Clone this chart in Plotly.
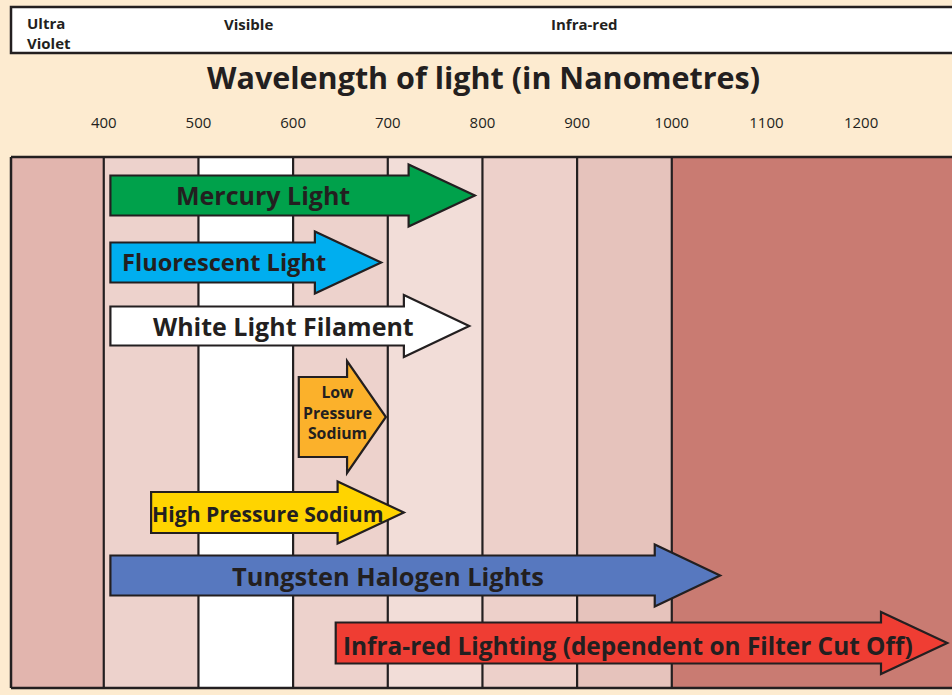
import plotly.graph_objects as go

# ---- data ----
tick_values = [400, 500, 600, 700, 800, 900, 1000, 1100, 1200]
tick_labels = ["400", "500", "600", "700", "800", "900", "1000", "1100", "1200"]

band_edges = [302, 400, 500, 600, 700, 800, 900, 1000, 1300]
band_colors = ["#E2B5AE", "#EDD2CC", "#FFFFFF", "#EDD2CC", "#F2DDD8", "#EDD0CA", "#E6C3BC", "#C97B72"]
divider_lines = [400, 500, 600, 700, 800, 900, 1000]

sources = ["Mercury Light", "Fluorescent Light", "White Light Filament",
           "Low<br>Pressure<br>Sodium", "High Pressure Sodium",
           "Tungsten Halogen Lights", "Infra-red Lighting (dependent on Filter Cut Off)"]
start_nm = [407, 407, 407, 606, 450, 407, 645]
end_nm = [792, 693, 786, 698, 717, 1051, 1291]

region_labels = ["Ultra<br>Violet", "Visible", "Infra-red"]

# ---- styles / layout ----
fill_colors = ["#00A14B", "#00AEEF", "#FFFFFF", "#FBB12B", "#FFD400", "#5778BF", "#EF3D33"]
row_y = [195.5, 262.5, 326, 417, 512.5, 575.5, 643]
body_half = [20, 20, 19.5, 40, 20.5, 20, 20.5]
head_half = [31, 31, 31, 56, 31, 31, 31]
head_len = [70, 70, 69, 41, 70, 69, 70]
label_x = [263, 224, 283, 337, 268, 388, 628]
label_y = [195, 262, 326, 412, 513, 576, 645]
label_size = [25, 23.6, 25, 15.8, 21.2, 25.4, 24.4]

INK = "#231F20"
BG = "#FDEBD0"
W, H = 952, 695
L, T, B = 11, 157, 7
x0r, x1r = 302, 1296


def px_to_x(px):
    return x0r + (px - L) / (W - L) * (x1r - x0r)


def py_to_paper(py):
    return (H - B - py) / (H - T - B)


fig = go.Figure()
fig.add_trace(go.Scatter(x=[x0r, x1r], y=[T, H - B], mode="markers",
                         marker=dict(opacity=0), hoverinfo="skip", showlegend=False))

shapes = []
for i, c in enumerate(band_colors):
    shapes.append(dict(type="rect", xref="x", yref="paper", x0=band_edges[i], x1=band_edges[i + 1],
                       y0=0, y1=1, fillcolor=c, line=dict(width=0), layer="below"))
for v in divider_lines:
    shapes.append(dict(type="line", xref="x", yref="paper", x0=v, x1=v, y0=0, y1=1,
                       line=dict(color=INK, width=2.2)))
# frame
shapes.append(dict(type="line", xref="paper", yref="paper", x0=0, x1=0, y0=0, y1=1,
                   line=dict(color=INK, width=2.5)))
shapes.append(dict(type="line", xref="paper", yref="paper", x0=0, x1=1.05, y0=1, y1=1,
                   line=dict(color=INK, width=2.5)))
shapes.append(dict(type="line", xref="paper", yref="paper", x0=0, x1=1.05, y0=0, y1=0,
                   line=dict(color=INK, width=2.5)))

# arrows
for i in range(len(sources)):
    s, e = start_nm[i], end_nm[i]
    hb = e - head_len[i]
    yc = row_y[i]
    bh, hh = body_half[i], head_half[i]
    path = (f"M{s},{yc - bh} L{hb},{yc - bh} L{hb},{yc - hh} L{e},{yc} "
            f"L{hb},{yc + hh} L{hb},{yc + bh} L{s},{yc + bh} Z")
    shapes.append(dict(type="path", xref="x", yref="y", path=path,
                       fillcolor=fill_colors[i], line=dict(color=INK, width=2.2)))

# top white box
shapes.append(dict(type="rect", xref="paper", yref="paper",
                   x0=0, x1=1.05, y0=py_to_paper(53), y1=py_to_paper(7),
                   fillcolor="#FFFFFF", line=dict(color=INK, width=2.5)))

annotations = []
for i, name in enumerate(sources):
    annotations.append(dict(x=px_to_x(label_x[i]), y=label_y[i], xref="x", yref="y",
                            text=f"<b>{name}</b>", showarrow=False,
                            font=dict(family="Open Sans", size=label_size[i], color=INK),
                            xanchor="center", yanchor="middle"))

annotations.append(dict(x=px_to_x(483), y=py_to_paper(77), xref="x", yref="paper",
                        text="<b>Wavelength of light (in Nanometres)</b>", showarrow=False,
                        font=dict(family="Open Sans", size=30.5, color=INK),
                        xanchor="center", yanchor="middle"))

region_px = [25, 222, 549]
region_y = [33, 24, 24]
for i, t in enumerate(region_labels):
    annotations.append(dict(x=px_to_x(region_px[i]), y=py_to_paper(region_y[i]),
                            xref="x", yref="paper", text=f"<b>{t}</b>", showarrow=False,
                            align="left", font=dict(family="Open Sans", size=15, color=INK),
                            xanchor="left", yanchor="middle"))

fig.update_layout(
    width=W, height=H,
    margin=dict(l=L, r=0, t=T, b=B, pad=0),
    paper_bgcolor=BG, plot_bgcolor=BG,
    shapes=shapes, annotations=annotations,
    showlegend=False,
    xaxis=dict(range=[x0r, x1r], side="top", tickvals=tick_values, ticktext=tick_labels,
               ticks="", showgrid=False, zeroline=False, showline=False,
               ticklabelstandoff=25,
               tickfont=dict(family="Open Sans", size=15, color=INK), fixedrange=True),
    yaxis=dict(range=[H - B, T], showticklabels=False, showgrid=False, zeroline=False,
               showline=False, ticks="", fixedrange=True),
)

fig.write_html("out.html", config={"displayModeBar": False},
               post_script="document.body.style.margin='0';document.body.style.overflow='hidden';")
